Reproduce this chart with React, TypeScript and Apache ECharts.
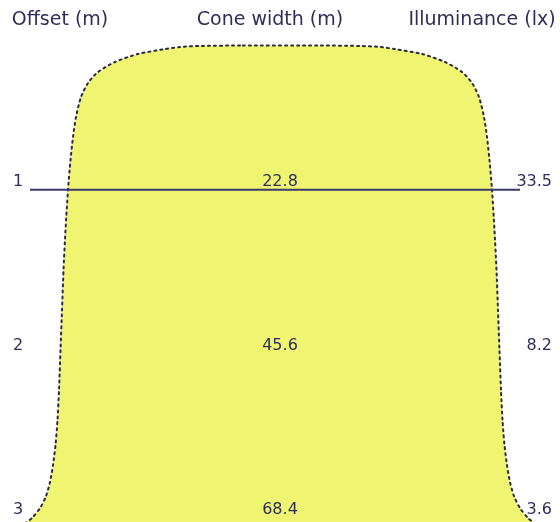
import React, { useEffect, useRef } from "react";
import * as echarts from "echarts";

const offsets = [1, 2, 3];
const coneWidths = [22.8, 45.6, 68.4];
const illuminance = [33.5, 8.2, 3.6];
const headers = ["Offset (m)", "Cone width (m)", "Illuminance (lx)"];
const guideOffset = 1;

// cone outline profile: offset (m) vs half-width (drawing units)
const outlineOffsets = [0.118, 0.121, 0.127, 0.14, 0.17, 0.219, 0.28, 0.347, 0.433, 0.555, 0.677, 0.818, 1.0, 1.246, 1.49, 1.735, 1.979, 2.224, 2.407, 2.56, 2.682, 2.786, 2.872, 2.945, 3.006, 3.061];
const outlineHalfWidths = [40, 80, 100, 115, 142, 165, 182, 192, 199, 204, 207, 209.5, 212, 214.5, 216.5, 218, 219.5, 221, 222.5, 224.5, 227, 230, 234, 240, 248, 258];

const TEXT = "#2e2e5a";
const FONT = "DejaVu Sans";

export default function App() {
  const ref = useRef<HTMLDivElement>(null);
  useEffect(() => {
    if (!ref.current) return;
    const chart = echarts.init(ref.current, undefined, { renderer: "svg" });
    const rows = offsets.map((o, i) => [o, coneWidths[i], illuminance[i]]);
    const hs = { align: "center", verticalAlign: "middle", fontSize: 19, fontFamily: FONT, fill: TEXT };
    chart.setOption({
      animation: false,
      grid: { left: 0, right: 0, top: 0, bottom: 0 },
      xAxis: { type: "value", min: -280, max: 280, show: false },
      yAxis: { type: "value", min: -0.16, max: 3.03, inverse: true, show: false },
      graphic: [
        { type: "text", x: 60, y: 18, style: { ...hs, text: headers[0] } },
        { type: "text", x: 270, y: 18, style: { ...hs, text: headers[1] } },
        { type: "text", x: 482, y: 18, style: { ...hs, text: headers[2] } },
      ],
      series: [
        {
          type: "custom",
          data: [0],
          silent: true,
          renderItem: (_p: any, api: any) => {
            const pts: number[][] = [];
            for (let i = 0; i < outlineOffsets.length; i++) pts.push(api.coord([-outlineHalfWidths[i], outlineOffsets[i]]));
            for (let i = outlineOffsets.length - 1; i >= 0; i--) pts.push(api.coord([outlineHalfWidths[i], outlineOffsets[i]]));
            return {
              type: "polygon",
              shape: { points: pts, smooth: 0.25 },
              style: { fill: "#eff571", stroke: "#2a2a44", lineWidth: 2, lineDash: [2, 4], lineCap: "round" },
            };
          },
        },
        {
          type: "custom",
          data: [guideOffset],
          silent: true,
          renderItem: (_p: any, api: any) => {
            const a = api.coord([-250, api.value(0)]);
            const b = api.coord([240, api.value(0)]);
            return {
              type: "line",
              shape: { x1: a[0], y1: a[1], x2: b[0], y2: b[1] },
              style: { stroke: "#3a3a6e", lineWidth: 2 },
            };
          },
        },
        {
          type: "custom",
          data: rows,
          silent: true,
          renderItem: (_p: any, api: any) => {
            const y = api.coord([0, api.value(0)])[1] - 1;
            const xl = api.coord([-262, 0])[0];
            const xc = api.coord([0, 0])[0];
            const xr = api.coord([272, 0])[0];
            const st = { fontSize: 16, fontFamily: FONT, fill: TEXT, verticalAlign: "bottom" };
            return {
              type: "group",
              children: [
                { type: "text", style: { ...st, x: xl, y, text: String(api.value(0)), align: "center" } },
                { type: "text", style: { ...st, x: xc, y, text: api.value(1).toFixed(1), align: "center" } },
                { type: "text", style: { ...st, x: xr, y, text: api.value(2).toFixed(1), align: "right" } },
              ],
            };
          },
        },
      ],
    });
    return () => chart.dispose();
  }, []);
  return <div ref={ref} style={{ position: "fixed", left: 0, top: 0, width: 560, height: 522 }} />;
}
